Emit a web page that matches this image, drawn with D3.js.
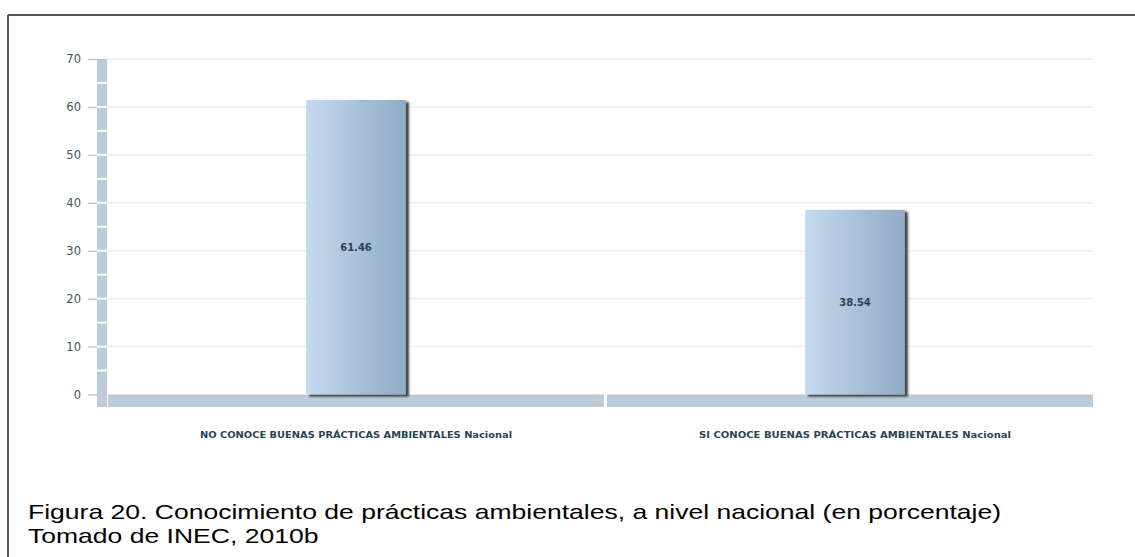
<!DOCTYPE html>
<html>
<head>
<meta charset="utf-8">
<script src="https://cdn.jsdelivr.net/npm/d3@7"></script>
<style>
  html, body { margin: 0; padding: 0; background: #fff; }
  svg { display: block; }
</style>
</head>
<body>
<svg id="chart" width="1135" height="557"></svg>
<script>
// Chart data
const categories = [
  "NO CONOCE BUENAS PRÁCTICAS AMBIENTALES Nacional",
  "SI CONOCE BUENAS PRÁCTICAS AMBIENTALES Nacional"
];
const values = [61.46, 38.54];
const yTicks = [0, 10, 20, 30, 40, 50, 60, 70];
const captionLines = [
  "Figura 20. Conocimiento de prácticas ambientales, a nivel nacional (en porcentaje)",
  "Tomado de INEC, 2010b"
];

const svg = d3.select("#chart");
const W = 1135, H = 557;

// Frame (top and left rules)
svg.append("line").attr("x1", 8).attr("x2", W).attr("y1", 15).attr("y2", 15)
  .attr("stroke", "#525252").attr("stroke-width", 2);
svg.append("line").attr("x1", 8).attr("x2", 8).attr("y1", 15).attr("y2", H)
  .attr("stroke", "#525252").attr("stroke-width", 2);

// Scales
const y = d3.scaleLinear().domain([0, 70]).range([394.5, 59]);
const x = d3.scaleBand().domain(categories).range([106.5, 1104.5]).padding(0);
const barW = x.step() * 0.2;

const plotLeft = 107, plotRight = 1093;
const axisColor = "#bccbda";
const textColor = "#2b4452";

// Gradient and shadow for bars
const defs = svg.append("defs");
const grad = defs.append("linearGradient").attr("id", "barGrad")
  .attr("x1", "0%").attr("x2", "100%").attr("y1", "0%").attr("y2", "0%");
grad.append("stop").attr("offset", "0%").attr("stop-color", "#c4daf0");
grad.append("stop").attr("offset", "100%").attr("stop-color", "#90abc6");
const sh = defs.append("filter").attr("id", "barShadow")
  .attr("x", "-10%").attr("y", "-10%").attr("width", "130%").attr("height", "130%");
sh.append("feGaussianBlur").attr("in", "SourceAlpha").attr("stdDeviation", 0.8).attr("result", "b");
sh.append("feOffset").attr("in", "b").attr("dx", 2.5).attr("dy", 2).attr("result", "o");
sh.append("feComponentTransfer").attr("in", "o").attr("result", "s")
  .append("feFuncA").attr("type", "linear").attr("slope", 0.75);
const m = sh.append("feMerge");
m.append("feMergeNode").attr("in", "s");
m.append("feMergeNode").attr("in", "SourceGraphic");

// Gridlines
svg.append("g").selectAll("line").data(yTicks.filter(d => d > 0)).join("line")
  .attr("x1", plotLeft).attr("x2", plotRight)
  .attr("y1", d => y(d)).attr("y2", d => y(d))
  .attr("stroke", "#eeeeee").attr("stroke-width", 1.6);

// Y axis ticks and labels
const yAxis = d3.axisLeft(y).tickValues(yTicks).tickSize(9).tickPadding(7).tickFormat(d3.format("d"));
const gy = svg.append("g").attr("transform", "translate(97,0)").call(yAxis);
gy.select(".domain").remove();
gy.selectAll(".tick line").attr("stroke", axisColor).attr("stroke-width", 1.5);
gy.selectAll(".tick text").attr("fill", "#3e5666")
  .style("font-family", "'DejaVu Sans', Verdana, sans-serif").style("font-size", "11.5px");

// Segmented vertical axis band (segments every 5 units)
const segs = d3.range(0, 70, 5);
svg.append("g").selectAll("rect").data(segs).join("rect")
  .attr("x", 97).attr("width", 10)
  .attr("y", d => y(d + 5) + (d + 5 === 70 ? 0 : 1))
  .attr("height", d => (d === 0 ? 407 : y(d) - 1) - (y(d + 5) + (d + 5 === 70 ? 0 : 1)))
  .attr("fill", axisColor);

// Horizontal axis band, split at the category boundary
const bandSplits = [[108, x(categories[1]) - 1.5], [x(categories[1]) + 1.5, plotRight]];
svg.append("g").selectAll("rect").data(bandSplits).join("rect")
  .attr("x", d => d[0]).attr("width", d => d[1] - d[0])
  .attr("y", y(0)).attr("height", 407 - y(0))
  .attr("fill", axisColor);

// Bars
svg.append("g").selectAll("rect").data(values).join("rect")
  .attr("x", (d, i) => x(categories[i]) + x.bandwidth() / 2 - barW / 2)
  .attr("width", barW)
  .attr("y", d => y(d))
  .attr("height", d => y(0) - y(d))
  .attr("fill", "url(#barGrad)")
  .attr("filter", "url(#barShadow)");

// Value labels inside the bars
svg.append("g").selectAll("text").data(values).join("text")
  .attr("x", (d, i) => x(categories[i]) + x.bandwidth() / 2)
  .attr("y", d => (y(d) + y(0)) / 2 + 1)
  .attr("text-anchor", "middle").attr("dominant-baseline", "middle")
  .attr("fill", textColor)
  .style("font-family", "'DejaVu Sans', Verdana, sans-serif")
  .style("font-size", "10px").style("font-weight", "bold")
  .text(d => d.toFixed(2));

// Category labels
svg.append("g").selectAll("text").data(categories).join("text")
  .attr("x", d => x(d) + x.bandwidth() / 2)
  .attr("y", 435)
  .attr("text-anchor", "middle").attr("dominant-baseline", "middle")
  .attr("fill", textColor)
  .attr("textLength", 312).attr("lengthAdjust", "spacingAndGlyphs")
  .style("font-family", "'DejaVu Sans', Verdana, sans-serif")
  .style("font-size", "9px").style("font-weight", "bold")
  .text(d => d);

// Caption: two lines, widened slightly so the first spans the figure width
const cap = svg.append("g").selectAll("text").data(captionLines).join("text")
  .attr("x", 28)
  .attr("y", (d, i) => 519 + i * 24)
  .attr("fill", "#000")
  .style("font-family", "'Liberation Sans', Arial, sans-serif")
  .style("font-size", "21px")
  .text(d => d);
const capNodes = cap.nodes();
const stretch = 973 / capNodes[0].getComputedTextLength();
cap.each(function () {
  const len = this.getComputedTextLength() * stretch;
  d3.select(this).attr("textLength", len).attr("lengthAdjust", "spacingAndGlyphs");
});
</script>
</body>
</html>
